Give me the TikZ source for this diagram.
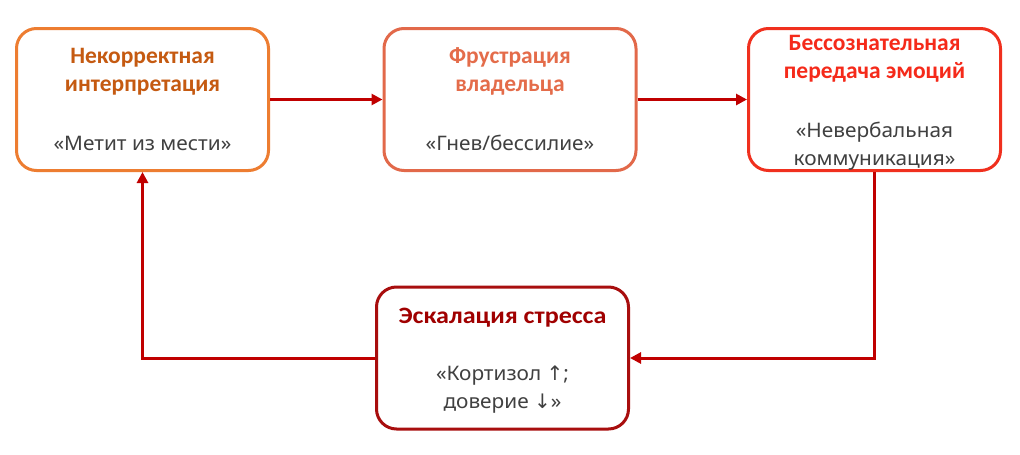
\documentclass[tikz,border=0pt]{standalone}
\usepackage{fontspec}
\setmainfont{Carlito}
\newfontfamily\widetitle[FakeStretch=1.11]{Carlito}
\newfontfamily\bodyfont[FakeStretch=1.04]{Noto Sans}
\newfontfamily\arrowfont{DejaVu Sans}
\usetikzlibrary{arrows.meta}
\definecolor{bOne}{HTML}{ED7D31}
\definecolor{tOne}{HTML}{C55A11}
\definecolor{bTwo}{HTML}{E2694A}
\definecolor{tTwo}{HTML}{E46C4A}
\definecolor{bThree}{HTML}{F0301E}
\definecolor{tThree}{HTML}{F52A1A}
\definecolor{bFour}{HTML}{A80E0E}
\definecolor{tFour}{HTML}{A00000}
\definecolor{arr}{HTML}{C00000}
\definecolor{body}{HTML}{404040}
\tikzset{
  box/.style={draw, line width=3pt, rounded corners=20pt, fill=white,
    minimum width=252pt, minimum height=142pt, inner sep=0pt},
  ttl/.style={font=\fontsize{23.5}{28}\selectfont\bfseries, align=center, inner sep=0pt},
  bdy/.style={font=\bodyfont\fontsize{20}{28}\selectfont, text=body, align=center, inner sep=0pt},
  conn/.style={draw=arr, line width=3pt, -{Triangle[length=11pt,width=11pt]}}
}
\begin{document}
\begin{tikzpicture}[x=1pt,y=-1pt]
\path[fill=white] (0,0) rectangle (1020,455);
\useasboundingbox (0,0) rectangle (1020,455);
\node[box, draw=bOne] (b1) at (142.5,99.5) {};
\node[box, draw=bTwo] (b2) at (510,99.5) {};
\node[box, draw=bThree] (b3) at (874.5,99.5) {};
\node[box, draw=bFour] (b4) at (502.5,358) {};
\node[ttl, text=tOne] (t1) at (142.5,71.5) {Некорректная\\интерпретация};
\node[bdy] (d1) at (142.5,143) {«Метит из мести»};
\node[ttl, text=tTwo] (t2) at (510,71.5) {Фрустрация\\владельца};
\node[bdy] (d2) at (510,143) {«Гнев/бессилие»};
\node[ttl, text=tThree] (t3) at (874.5,59) {Бессознательная\\передача эмоций};
\node[bdy] (d3) at (874.5,146) {«Невербальная\\коммуникация»};
\node[ttl, text=tFour, font=\widetitle\fontsize{23.5}{28}\selectfont\bfseries] (t4) at (502.5,317.5) {Эскалация стресса};
\node[bdy] (d4) at (502.5,390) {«Кортизол {\arrowfont ↑};\\доверие {\arrowfont ↓}»};
\draw[conn] (b1.east) -- (b2.west);
\draw[conn] (b2.east) -- (b3.west);
\draw[conn] (b3.south) |- (b4.east);
\draw[conn] (b4.west) -| (b1.south);
\end{tikzpicture}
\end{document}
